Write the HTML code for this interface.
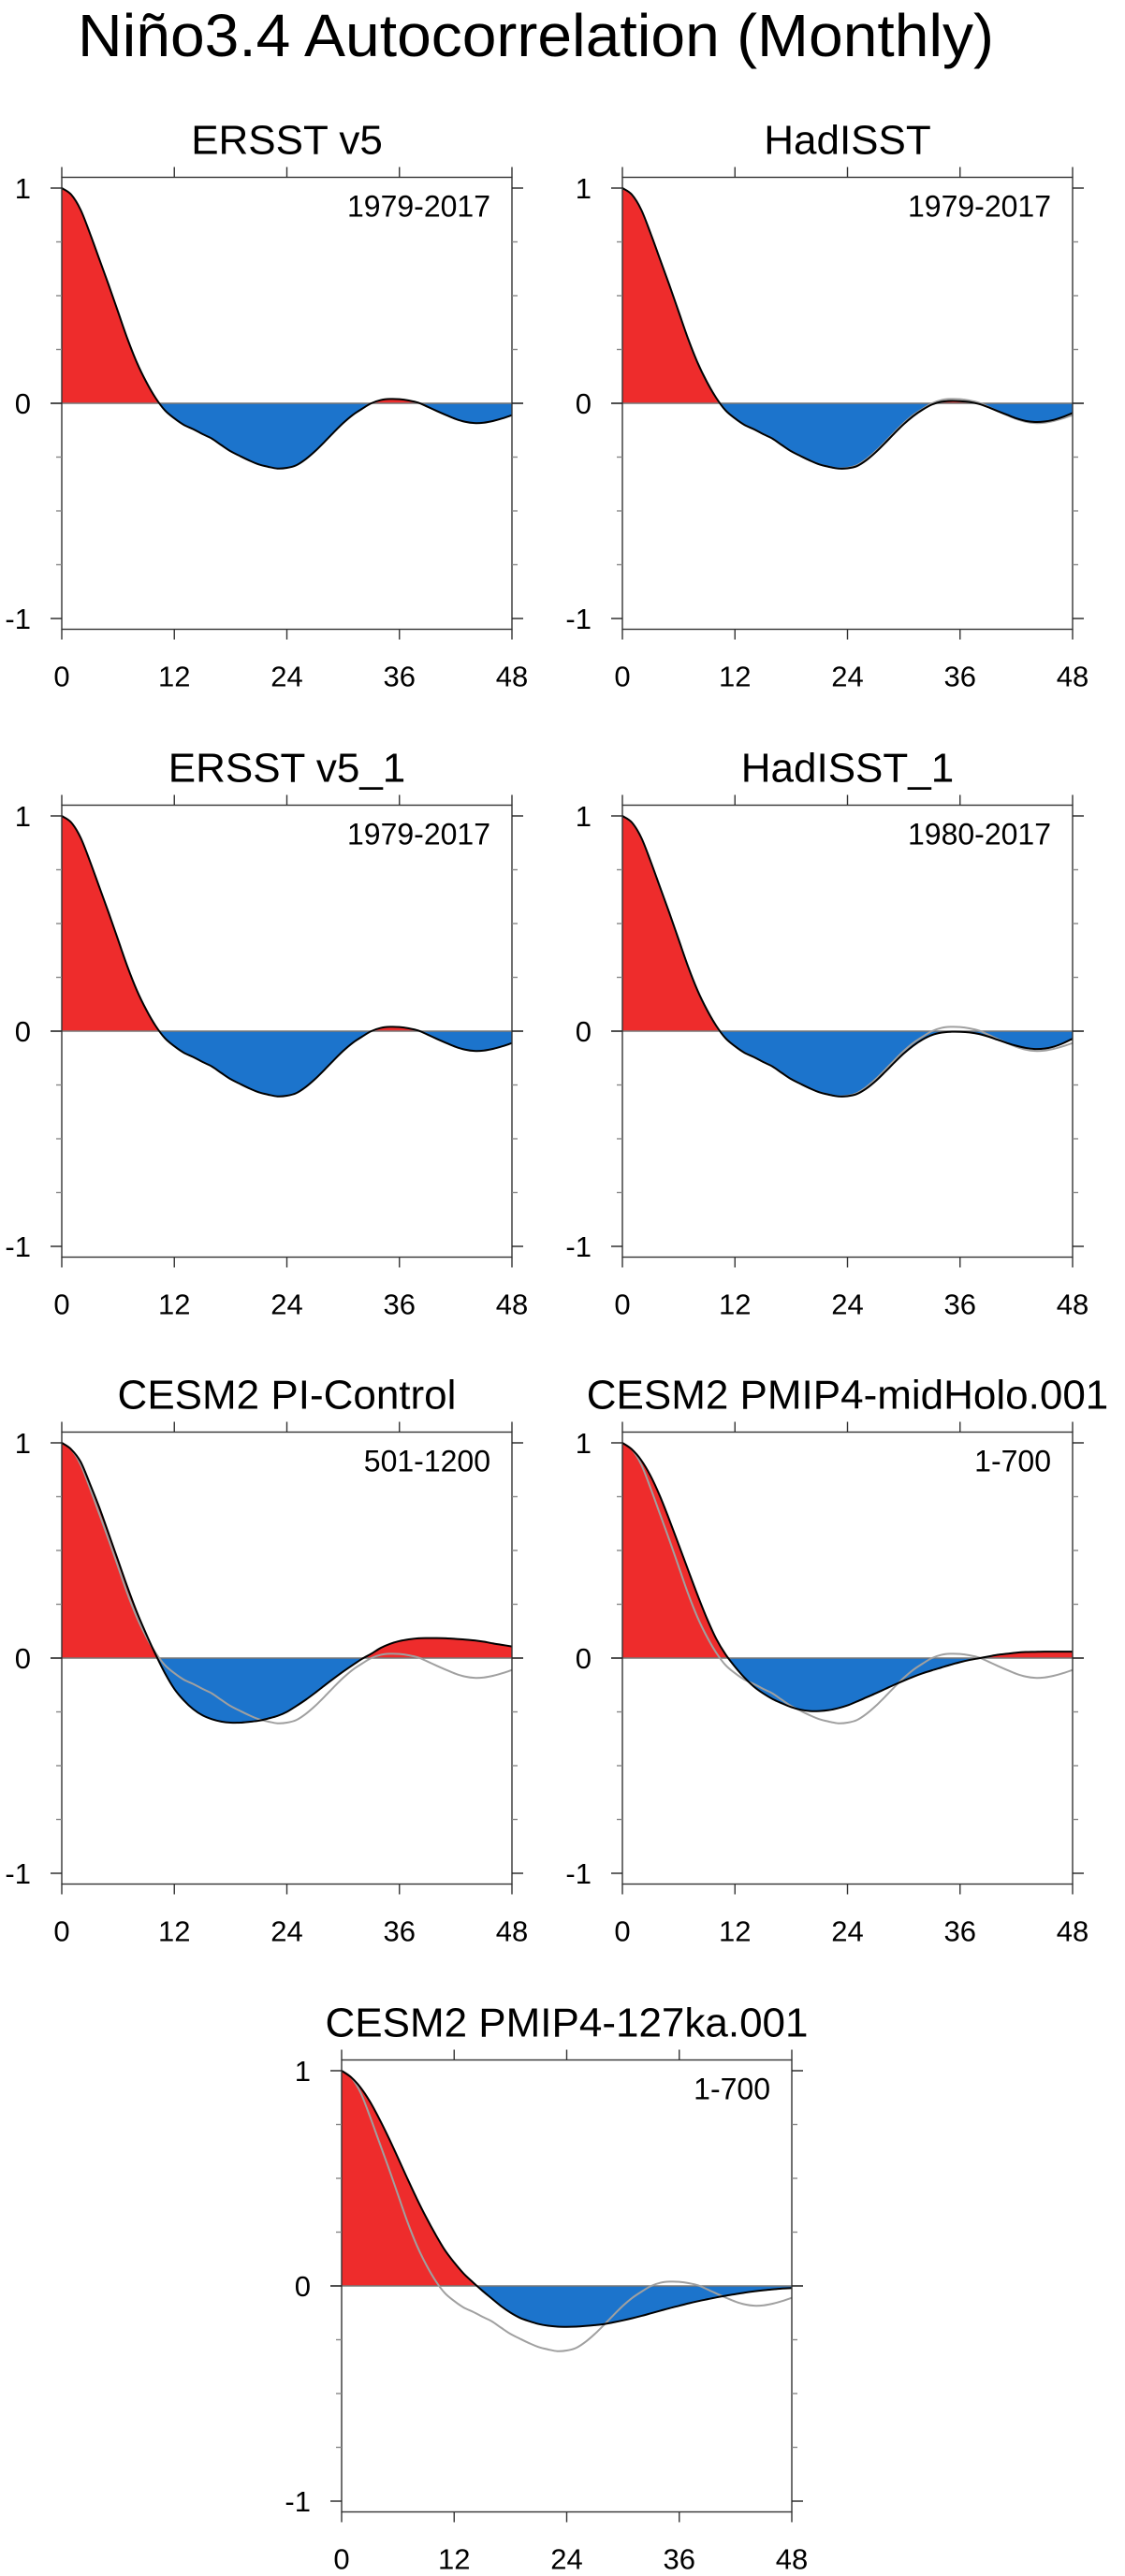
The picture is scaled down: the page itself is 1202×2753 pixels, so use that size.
<!DOCTYPE html>
<html><head><meta charset="utf-8"><title>Niño3.4 Autocorrelation</title>
<style>html,body{margin:0;padding:0;background:#fff}svg{display:block}text{font-family:"Liberation Sans",sans-serif;fill:#000}</style>
</head><body>
<svg id="chart" width="1202" height="2753" viewBox="0 0 1202 2753">
<text x="83" y="60" font-size="64" textLength="979" lengthAdjust="spacingAndGlyphs">Niño3.4 Autocorrelation (Monthly)</text>
</svg>
<script>
const lags = Array.from({length:49},(_,i)=>i);
const xTicks = [0,12,24,36,48];
const yTickLabels = ["1","0","-1"];
const yTickValues = [1,0,-1];
const ersst = [1.0,0.97,0.9,0.79,0.67,0.55,0.425,0.3,0.19,0.1,0.025,-0.033,-0.07,-0.1,-0.12,-0.143,-0.164,-0.194,-0.223,-0.245,-0.266,-0.284,-0.295,-0.303,-0.3,-0.288,-0.26,-0.223,-0.18,-0.135,-0.092,-0.055,-0.026,0.0,0.015,0.02,0.019,0.013,0.003,-0.016,-0.036,-0.055,-0.073,-0.086,-0.092,-0.09,-0.082,-0.07,-0.055];
const hadisst = [1.0,0.97,0.9,0.79,0.67,0.55,0.425,0.3,0.19,0.1,0.025,-0.033,-0.07,-0.1,-0.12,-0.143,-0.164,-0.194,-0.223,-0.245,-0.266,-0.284,-0.295,-0.303,-0.302,-0.292,-0.265,-0.228,-0.185,-0.14,-0.097,-0.06,-0.03,-0.006,0.007,0.011,0.01,0.006,-0.003,-0.018,-0.036,-0.053,-0.07,-0.082,-0.087,-0.085,-0.077,-0.063,-0.045];
const hadisst1 = [1.0,0.97,0.9,0.79,0.67,0.55,0.425,0.3,0.19,0.1,0.025,-0.033,-0.07,-0.1,-0.12,-0.143,-0.164,-0.194,-0.223,-0.245,-0.266,-0.284,-0.295,-0.303,-0.302,-0.292,-0.267,-0.232,-0.19,-0.146,-0.104,-0.068,-0.039,-0.018,-0.007,-0.003,-0.003,-0.006,-0.013,-0.025,-0.04,-0.055,-0.068,-0.078,-0.083,-0.081,-0.072,-0.056,-0.035];
const piControl = [1.0,0.97,0.913,0.81,0.7,0.578,0.454,0.33,0.214,0.112,0.017,-0.07,-0.143,-0.196,-0.237,-0.266,-0.284,-0.295,-0.3,-0.3,-0.296,-0.291,-0.281,-0.269,-0.25,-0.223,-0.194,-0.162,-0.128,-0.095,-0.063,-0.033,-0.004,0.02,0.047,0.066,0.079,0.087,0.092,0.093,0.093,0.092,0.089,0.086,0.082,0.076,0.068,0.061,0.054];
const midHolo = [1.0,0.97,0.92,0.847,0.753,0.643,0.527,0.41,0.294,0.185,0.09,0.017,-0.04,-0.09,-0.132,-0.164,-0.19,-0.21,-0.228,-0.24,-0.246,-0.246,-0.242,-0.233,-0.22,-0.202,-0.183,-0.164,-0.144,-0.124,-0.105,-0.087,-0.071,-0.057,-0.044,-0.031,-0.019,-0.009,-0.001,0.007,0.015,0.02,0.025,0.028,0.029,0.03,0.03,0.03,0.03];
const ka127 = [1.0,0.97,0.923,0.858,0.778,0.69,0.596,0.5,0.407,0.32,0.24,0.167,0.109,0.058,0.017,-0.022,-0.058,-0.094,-0.124,-0.148,-0.164,-0.177,-0.185,-0.189,-0.19,-0.189,-0.186,-0.182,-0.177,-0.169,-0.16,-0.15,-0.139,-0.127,-0.115,-0.103,-0.092,-0.081,-0.071,-0.062,-0.053,-0.045,-0.038,-0.031,-0.025,-0.02,-0.016,-0.012,-0.01];

const panels = [
 {name:"ersst-v5", title:"ERSST v5", period:"1979-2017", x0:66, y0:431, data:ersst, ref:null},
 {name:"hadisst", title:"HadISST", period:"1979-2017", x0:665, y0:431, data:hadisst, ref:ersst},
 {name:"ersst-v5-1", title:"ERSST v5_1", period:"1979-2017", x0:66, y0:1102, data:ersst, ref:null},
 {name:"hadisst-1", title:"HadISST_1", period:"1980-2017", x0:665, y0:1102, data:hadisst1, ref:ersst},
 {name:"cesm2-pi-control", title:"CESM2 PI-Control", period:"501-1200", x0:66, y0:1772, data:piControl, ref:ersst},
 {name:"cesm2-midholo", title:"CESM2 PMIP4-midHolo.001", period:"1-700", x0:665, y0:1772, data:midHolo, ref:ersst},
 {name:"cesm2-127ka", title:"CESM2 PMIP4-127ka.001", period:"1-700", x0:365, y0:2443, data:ka127, ref:ersst}
];
const NS="http://www.w3.org/2000/svg";
const svg=document.getElementById('chart');
const W=481, U=230;
function mk(tag,attrs,parent){const e=document.createElementNS(NS,tag);for(const k in attrs)e.setAttribute(k,attrs[k]);(parent||svg).appendChild(e);return e;}
function pathFrom(pts){
  let d="M"+pts[0][0].toFixed(2)+","+pts[0][1].toFixed(2);
  for(let i=0;i<pts.length-1;i++){
    const p0=pts[i-1]||pts[i],p1=pts[i],p2=pts[i+1],p3=pts[i+2]||p2;
    const c1=[p1[0]+(p2[0]-p0[0])/6,p1[1]+(p2[1]-p0[1])/6];
    const c2=[p2[0]-(p3[0]-p1[0])/6,p2[1]-(p3[1]-p1[1])/6];
    d+=" C"+c1[0].toFixed(2)+","+c1[1].toFixed(2)+" "+c2[0].toFixed(2)+","+c2[1].toFixed(2)+" "+p2[0].toFixed(2)+","+p2[1].toFixed(2);
  }
  return d;
}
panels.forEach((p,pi)=>{
  const xs=l=>p.x0+l/48*W;
  const ys=v=>p.y0-v*U;
  const top=ys(1.05), bot=ys(-1.05), right=p.x0+W;
  const g=mk('g',{});
  
  
  const t=mk('text',{x:p.x0+W/2,y:top-25,'font-size':44,'text-anchor':'middle'},g);
  t.textContent=p.title;
  
  
  const cu=mk('clipPath',{id:'cu'+pi},g); mk('rect',{x:p.x0,y:top,width:W,height:p.y0-top},cu);
  const cd=mk('clipPath',{id:'cd'+pi},g); mk('rect',{x:p.x0,y:p.y0,width:W,height:bot-p.y0},cd);
  const pts=p.data.map((v,i)=>[xs(lags[i]),ys(v)]);
  const curve=pathFrom(pts);
  const area=curve+" L"+xs(48)+","+p.y0+" L"+xs(0)+","+p.y0+" Z";
  const fu=mk('path',{d:area,fill:'#ee2c2c','clip-path':'url(#cu'+pi+')'},g);
  
  
  const fd=mk('path',{d:area,fill:'#1c74cc','clip-path':'url(#cd'+pi+')'},g);
  
  
  const zl=mk('line',{x1:p.x0-12,x2:right+12,y1:p.y0,y2:p.y0,stroke:'#777','stroke-width':1.4},g);
  
  
  if(p.ref){
    const rp=mk('path',{d:pathFrom(p.ref.map((v,i)=>[xs(lags[i]),ys(v)])),fill:'none',stroke:'#a0a0a0','stroke-width':2},g);
    
    
  }
  const ln=mk('path',{d:curve,fill:'none',stroke:'#000','stroke-width':2},g);
  
  
  const fr=mk('rect',{x:p.x0,y:top,width:W,height:bot-top,fill:'none',stroke:'#333','stroke-width':1.4},g);
  
  
  for(let k=-4;k<=4;k++){
    const v=k/4, y=ys(v), major=(k%4===0), L=major?12:6;
    mk('line',{x1:p.x0-L,x2:p.x0,y1:y,y2:y,stroke:major?'#222':'#888','stroke-width':1.4},g);
    mk('line',{x1:right,x2:right+L,y1:y,y2:y,stroke:major?'#222':'#888','stroke-width':1.4},g);
  }
  yTickValues.forEach((v,i)=>{
    const tl=mk('text',{x:p.x0-33,y:ys(v)+11,'font-size':31,'text-anchor':'end'},g);
    tl.textContent=yTickLabels[i];
    
    
  });
  xTicks.forEach(v=>{
    const x=xs(v);
    mk('line',{x1:x,x2:x,y1:top-11,y2:top,stroke:'#333','stroke-width':1.4},g);
    mk('line',{x1:x,x2:x,y1:bot,y2:bot+11,stroke:'#333','stroke-width':1.4},g);
    const tl=mk('text',{x:x,y:bot+61,'font-size':31,'text-anchor':'middle'},g);
    tl.textContent=String(v);
    
    
  });
  const pl=mk('text',{x:right-23,y:top+42,'font-size':32,'text-anchor':'end'},g);
  pl.textContent=p.period;
  
  
});
</script>
</body></html>
